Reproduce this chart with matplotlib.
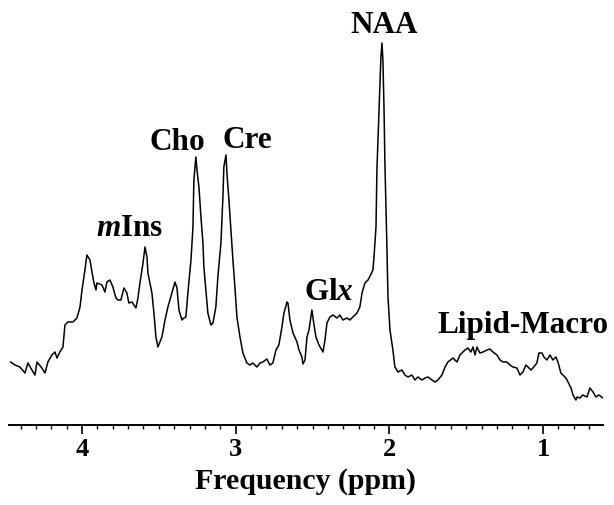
import matplotlib
matplotlib.use("Agg")
import matplotlib.pyplot as plt
from matplotlib.ticker import MultipleLocator

plt.rcParams['font.family'] = ['Liberation Serif', 'DejaVu Serif']
plt.rcParams['mathtext.fontset'] = 'custom'
plt.rcParams['mathtext.it'] = 'Liberation Serif:italic:bold'
plt.rcParams['mathtext.rm'] = 'Liberation Serif:bold'

# Chemical shift (ppm)
ppm = [4.464, 4.436, 4.404, 4.371, 4.352, 4.326, 4.306, 4.293, 4.261, 4.241,
       4.222, 4.196, 4.176, 4.163, 4.144, 4.124, 4.111, 4.092, 4.059, 4.033,
       4.013, 4.000, 3.981, 3.968, 3.948, 3.935, 3.922, 3.909, 3.903, 3.870,
       3.851, 3.838, 3.818, 3.799, 3.779, 3.766, 3.747, 3.727, 3.708, 3.695,
       3.675, 3.662, 3.649, 3.636, 3.623, 3.603, 3.590, 3.577, 3.571, 3.545,
       3.532, 3.519, 3.506, 3.480, 3.460, 3.441, 3.415, 3.395, 3.382, 3.369,
       3.350, 3.337, 3.324, 3.311, 3.291, 3.278, 3.272, 3.259, 3.252, 3.239,
       3.226, 3.213, 3.207, 3.194, 3.181, 3.161, 3.148, 3.129, 3.116, 3.096,
       3.083, 3.077, 3.063, 3.057, 3.044, 3.031, 3.018, 3.005, 2.992, 2.972,
       2.953, 2.927, 2.907, 2.888, 2.862, 2.842, 2.823, 2.797, 2.777, 2.758,
       2.738, 2.719, 2.699, 2.686, 2.666, 2.660, 2.647, 2.627, 2.601, 2.588,
       2.569, 2.562, 2.549, 2.536, 2.523, 2.504, 2.497, 2.478, 2.458, 2.432,
       2.419, 2.406, 2.387, 2.367, 2.341, 2.322, 2.302, 2.276, 2.257, 2.237,
       2.211, 2.192, 2.178, 2.159, 2.139, 2.122, 2.107, 2.100, 2.087, 2.081,
       2.068, 2.061, 2.055, 2.048, 2.042, 2.035, 2.029, 2.016, 2.009, 1.996,
       1.977, 1.964, 1.944, 1.918, 1.899, 1.879, 1.853, 1.834, 1.814, 1.788,
       1.768, 1.749, 1.723, 1.703, 1.684, 1.658, 1.638, 1.619, 1.586, 1.560,
       1.541, 1.508, 1.489, 1.469, 1.456, 1.443, 1.430, 1.411, 1.391, 1.365,
       1.346, 1.326, 1.300, 1.280, 1.261, 1.235, 1.215, 1.196, 1.170, 1.150,
       1.131, 1.111, 1.098, 1.079, 1.066, 1.040, 1.027, 1.007, 0.994, 0.975,
       0.955, 0.936, 0.916, 0.903, 0.884, 0.871, 0.851, 0.838, 0.818, 0.805,
       0.786, 0.779, 0.760, 0.741, 0.714, 0.695, 0.675, 0.656, 0.636, 0.610]

# Signal intensity (arbitrary units)
signal = [63, 60, 58, 52, 62, 55, 50, 63, 57, 52,
          63, 70, 73, 67, 73, 78, 100, 103, 103, 107,
          118, 135, 155, 170, 165, 153, 142, 135, 142, 140,
          133, 143, 145, 138, 127, 125, 125, 137, 132, 122,
          123, 120, 117, 127, 142, 162, 178, 168, 152, 132,
          112, 88, 78, 88, 105, 118, 132, 143, 137, 115,
          105, 107, 108, 132, 165, 198, 245, 268, 255, 238,
          208, 182, 158, 135, 112, 100, 102, 118, 148, 182,
          228, 258, 270, 252, 225, 195, 165, 138, 108, 88,
          72, 62, 60, 62, 58, 62, 63, 66, 60, 62,
          75, 80, 98, 112, 123, 122, 105, 92, 83, 75,
          68, 61, 65, 88, 95, 115, 107, 88, 80, 73,
          85, 102, 108, 110, 107, 110, 105, 107, 105, 108,
          112, 118, 132, 142, 145, 150, 155, 168, 198, 255,
          312, 345, 368, 382, 365, 318, 262, 178, 128, 95,
          75, 58, 53, 55, 50, 48, 50, 45, 48, 45,
          47, 48, 45, 43, 45, 50, 58, 63, 67, 63,
          70, 75, 77, 73, 78, 70, 78, 72, 73, 75,
          76, 73, 70, 65, 63, 63, 60, 58, 57, 50,
          53, 60, 58, 55, 57, 62, 72, 72, 68, 65,
          70, 65, 68, 63, 52, 50, 47, 43, 37, 30,
          25, 28, 27, 30, 28, 37, 33, 28, 30, 27]

major_ticks = [4, 3, 2, 1]
tick_labels = ["4", "3", "2", "1"]

fig = plt.figure(figsize=(6.14, 5.05), dpi=100)
ax = fig.add_axes([0.01466, 0.1584, 0.9674, 0.8416])
ax.plot(ppm, signal, color='black', lw=1.1)
ax.set_xlim(4.475, 0.61)
ax.set_ylim(0, 425)

for s in ['top', 'right', 'left']:
    ax.spines[s].set_visible(False)
ax.spines['bottom'].set_linewidth(1.4)
ax.set_yticks([])
ax.set_xticks(major_ticks)
ax.set_xticklabels(tick_labels, fontsize=19, fontweight='bold')
ax.xaxis.set_minor_locator(MultipleLocator(0.1))
ax.tick_params(axis='x', which='major', length=6.5, width=1.2, direction='out', pad=3)
ax.tick_params(axis='x', which='minor', length=3, width=1.0, direction='out')
ax.set_xlabel('Frequency (ppm)', fontsize=21.5, fontweight='bold', labelpad=5)

lab_kw = dict(fontsize=22.5, fontweight='bold', ha='center', va='baseline')
ax.text(2.035, 392, 'NAA', **lab_kw)
ax.text(3.382, 275, 'Cho', **lab_kw)
ax.text(2.927, 277, 'Cre', **lab_kw)
ax.text(3.688, 189, r'$\mathit{m}$Ins', **lab_kw)
ax.text(2.393, 125, r'Gl$\mathit{x}$', **lab_kw)
ax.text(1.128, 92, 'Lipid-Macro', **lab_kw)

fig.savefig('out.png', dpi=100)
